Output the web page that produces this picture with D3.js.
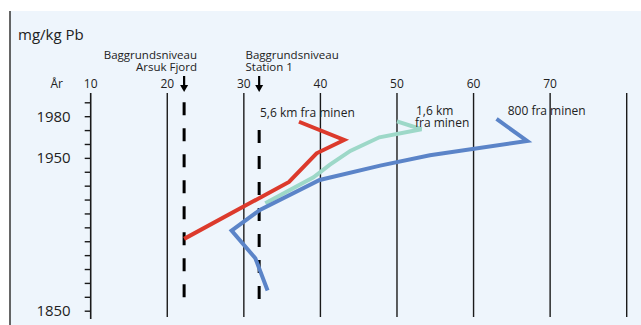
<!DOCTYPE html>
<html>
<head>
<meta charset="utf-8">
<script src="https://cdn.jsdelivr.net/npm/d3@7"></script>
<style>
  body { margin: 0; background: #fff; }
  svg { display: block; }
</style>
</head>
<body>
<svg id="chart" width="641" height="325"></svg>
<script>
// lead (mg/kg Pb) against sediment depth (tick index), dated by year labels
var xTicks = [10, 20, 30, 40, 50, 60, 70, 80];
var xTickLabels = ["10", "20", "30", "40", "50", "60", "70", ""];
var depthTicks = d3.range(0, 16);
var yearLabels = [ { year: "1980", depth: 1 }, { year: "1950", depth: 4 }, { year: "1850", depth: 15 } ];

var red56Value = [37.2, 43.1, 39.5, 35.9, 22.2];
var red56Depth = [1.40, 2.71, 3.67, 5.73, 9.83];

var teal16Value = [50.0, 53.2, 47.7, 43.9, 41.2, 39.1, 32.8];
var teal16Depth = [1.37, 1.94, 2.52, 3.50, 4.51, 5.40, 7.27];

var blue800Value = [63.0, 67.0, 54.3, 47.8, 39.9, 32.1, 28.4, 31.5, 33.1];
var blue800Depth = [1.20, 2.78, 3.81, 4.56, 5.59, 7.75, 9.24, 11.22, 13.55];

var backgrounds = [
  { value: 22.2, topDepth: 0, label1: "Baggrundsniveau", label2: "Arsuk Fjord", anchor: "end" },
  { value: 32.0, topDepth: 2, label1: "Baggrundsniveau", label2: "Station 1", anchor: "start" }
];

var font = "'Open Sans', 'Noto Sans', sans-serif";
var svg = d3.select("#chart");

var x = d3.scaleLinear().domain([10, 80]).range([90.7, 626.7]);
var y = d3.scaleLinear().domain([0, 15]).range([102.3, 310.7]);

// panel background and left frame
svg.append("rect").attr("x", 10).attr("y", 11).attr("width", 631).attr("height", 314)
  .attr("fill", "#eef5fc");
svg.append("line").attr("x1", 10).attr("x2", 10).attr("y1", 11).attr("y2", 325)
  .attr("stroke", "#333").attr("stroke-width", 1.5);

svg.append("text").text("mg/kg Pb")
  .attr("x", 18).attr("y", 40)
  .attr("font-family", font).attr("font-size", "15px").attr("fill", "#222");

// vertical grid
svg.selectAll("line.grid")
  .data(xTicks.slice(1))
  .enter().append("line")
  .attr("class", "grid")
  .attr("x1", d => x(d)).attr("x2", d => x(d))
  .attr("y1", 93).attr("y2", 317)
  .attr("stroke", "#1a1a1a").attr("stroke-width", 1.4);

// top value labels
svg.selectAll("text.xl")
  .data(xTicks)
  .enter().append("text")
  .attr("class", "xl")
  .attr("x", d => x(d)).attr("y", 88)
  .attr("text-anchor", "middle")
  .attr("font-family", font).attr("font-size", "12px").attr("fill", "#222")
  .text((d, i) => xTickLabels[i]);

svg.append("text").text("År")
  .attr("x", 63).attr("y", 88).attr("text-anchor", "end")
  .attr("font-family", font).attr("font-size", "12px").attr("fill", "#222");

// depth axis with year labels
var yAxis = d3.axisLeft(y).tickValues(depthTicks).tickSize(6).tickPadding(14)
  .tickFormat(d => { var m = yearLabels.find(l => l.depth === d); return m ? m.year : ""; });
var ga = svg.append("g").attr("transform", "translate(" + x(10) + ",0)").call(yAxis);
ga.select(".domain").remove();
ga.selectAll(".tick line").attr("stroke", "#1a1a1a").attr("stroke-width", 1.4);
ga.selectAll(".tick text").attr("font-family", font).attr("font-size", "15px").attr("fill", "#222");
ga.append("line").attr("x1", 0).attr("x2", 0).attr("y1", 93).attr("y2", 319)
  .attr("stroke", "#1a1a1a").attr("stroke-width", 1.6);

// background levels: dashed lines, arrows and labels
backgrounds.forEach(function (b) {
  var bx = x(b.value);
  svg.append("line")
    .attr("x1", bx).attr("x2", bx)
    .attr("y1", y(b.topDepth)).attr("y2", 299)
    .attr("stroke", "#000").attr("stroke-width", 3)
    .attr("stroke-dasharray", "13,13");
  svg.append("line").attr("x1", bx).attr("x2", bx).attr("y1", 76).attr("y2", 86)
    .attr("stroke", "#000").attr("stroke-width", 2.2);
  svg.append("path")
    .attr("d", "M" + (bx - 4) + ",85 L" + (bx + 4) + ",85 L" + bx + ",92 Z")
    .attr("fill", "#000");
  var tx = b.anchor === "end" ? 197 : 245.5;
  svg.append("text").text(b.label1).attr("x", tx).attr("y", 59).attr("text-anchor", b.anchor)
    .attr("font-family", font).attr("font-size", "11.5px").attr("fill", "#222");
  svg.append("text").text(b.label2).attr("x", tx).attr("y", 71).attr("text-anchor", b.anchor)
    .attr("font-family", font).attr("font-size", "11.5px").attr("fill", "#222");
});

// series
var series = [
  { values: red56Value, depths: red56Depth, color: "#dc3a2c" },
  { values: teal16Value, depths: teal16Depth, color: "#9dd8c8" },
  { values: blue800Value, depths: blue800Depth, color: "#5b84c8" }
];
var line = d3.line().x(d => x(d[0])).y(d => y(d[1]));
series.forEach(function (s) {
  svg.append("path")
    .datum(s.values.map((v, i) => [v, s.depths[i]]))
    .attr("d", line)
    .attr("fill", "none").attr("stroke", s.color)
    .attr("stroke-width", 4).attr("stroke-linejoin", "miter");
});

// series annotations
var notes = [
  { x: 260, y: 116.7, text: "5,6 km fra minen" },
  { x: 416, y: 114.5, text: "1,6 km" },
  { x: 415, y: 126.7, text: "fra minen" },
  { x: 507.7, y: 115, text: "800 fra minen" }
];
svg.selectAll("text.note")
  .data(notes)
  .enter().append("text")
  .attr("class", "note")
  .attr("x", d => d.x).attr("y", d => d.y)
  .attr("font-family", font).attr("font-size", "12px").attr("fill", "#222")
  .text(d => d.text);
</script>
</body>
</html>
